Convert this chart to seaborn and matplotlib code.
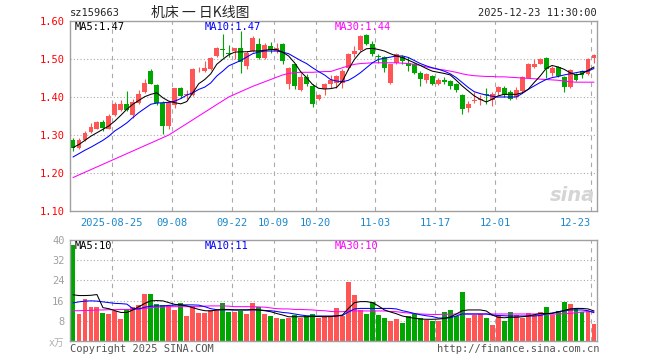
"""
Daily K-line chart for sz159663 with price MAs and volume panel.
"""

import numpy as np
import matplotlib
matplotlib.use("Agg")
import matplotlib.pyplot as plt
import seaborn as sns

sns.set_style("white")
plt.rcParams["font.family"] = ["DejaVu Sans Mono", "Noto Sans CJK SC"]

# tick positions (candle index) and labels on the date axis
tick_idx = [7, 17, 27, 34, 41, 51, 61, 71, 87]
tick_labels = ["2025-08-25", "09-08", "09-22", "10-09", "10-20",
               "11-03", "11-17", "12-01", "12-23"]

open_ = [1.286, 1.265, 1.288, 1.309, 1.317, 1.335, 1.317, 1.353, 1.367, 1.382,
         1.353, 1.385, 1.414, 1.468, 1.432, 1.385, 1.324, 1.379, 1.425, 1.405,
         1.405, 1.470, 1.468, 1.473, 1.508, 1.526, 1.517, 1.521, 1.530, 1.482,
         1.521, 1.540, 1.502, 1.534, 1.521, 1.540, 1.433, 1.486, 1.418, 1.453,
         1.429, 1.394, 1.420, 1.435, 1.436, 1.438, 1.477, 1.512, 1.523, 1.563,
         1.540, 1.509, 1.505, 1.438, 1.490, 1.505, 1.490, 1.486, 1.464, 1.446,
         1.455, 1.435, 1.444, 1.442, 1.435, 1.405, 1.370, 1.389, 1.393, 1.409,
         1.391, 1.414, 1.425, 1.414, 1.400, 1.416, 1.451, 1.479, 1.488, 1.502,
         1.464, 1.479, 1.453, 1.426, 1.458, 1.468, 1.460, 1.502]
close = [1.267, 1.288, 1.304, 1.322, 1.335, 1.319, 1.351, 1.381, 1.382, 1.367,
         1.388, 1.407, 1.436, 1.435, 1.385, 1.324, 1.387, 1.425, 1.403, 1.409,
         1.475, 1.472, 1.475, 1.502, 1.530, 1.524, 1.514, 1.528, 1.493, 1.517,
         1.556, 1.502, 1.537, 1.525, 1.530, 1.496, 1.477, 1.429, 1.453, 1.435,
         1.381, 1.405, 1.435, 1.446, 1.454, 1.468, 1.514, 1.521, 1.561, 1.540,
         1.512, 1.505, 1.477, 1.486, 1.514, 1.496, 1.482, 1.464, 1.448, 1.460,
         1.433, 1.446, 1.439, 1.429, 1.418, 1.368, 1.381, 1.391, 1.394, 1.405,
         1.409, 1.426, 1.405, 1.396, 1.418, 1.453, 1.488, 1.488, 1.499, 1.475,
         1.477, 1.455, 1.426, 1.470, 1.446, 1.458, 1.499, 1.511]
high = [1.291, 1.291, 1.311, 1.332, 1.337, 1.339, 1.354, 1.386, 1.393, 1.416,
        1.394, 1.418, 1.448, 1.473, 1.435, 1.389, 1.389, 1.425, 1.427, 1.418,
        1.477, 1.479, 1.496, 1.504, 1.532, 1.567, 1.538, 1.530, 1.574, 1.521,
        1.561, 1.556, 1.543, 1.546, 1.543, 1.543, 1.479, 1.488, 1.464, 1.460,
        1.433, 1.409, 1.438, 1.457, 1.457, 1.473, 1.517, 1.534, 1.562, 1.567,
        1.547, 1.514, 1.508, 1.488, 1.517, 1.511, 1.504, 1.490, 1.468, 1.464,
        1.458, 1.451, 1.453, 1.446, 1.438, 1.407, 1.389, 1.414, 1.405, 1.423,
        1.414, 1.429, 1.429, 1.418, 1.426, 1.455, 1.490, 1.499, 1.502, 1.504,
        1.482, 1.482, 1.455, 1.473, 1.464, 1.470, 1.502, 1.512]
low = [1.258, 1.263, 1.284, 1.306, 1.315, 1.311, 1.315, 1.351, 1.363, 1.363,
       1.346, 1.382, 1.411, 1.433, 1.379, 1.302, 1.315, 1.372, 1.397, 1.396,
       1.402, 1.465, 1.466, 1.470, 1.505, 1.504, 1.504, 1.499, 1.464, 1.473,
       1.519, 1.500, 1.500, 1.517, 1.517, 1.486, 1.420, 1.420, 1.416, 1.429,
       1.374, 1.391, 1.405, 1.423, 1.425, 1.425, 1.470, 1.505, 1.522, 1.537,
       1.508, 1.490, 1.467, 1.433, 1.486, 1.486, 1.468, 1.460, 1.429, 1.438,
       1.432, 1.432, 1.435, 1.420, 1.414, 1.356, 1.361, 1.385, 1.379, 1.382,
       1.376, 1.405, 1.400, 1.391, 1.396, 1.414, 1.449, 1.477, 1.486, 1.451,
       1.455, 1.453, 1.414, 1.425, 1.442, 1.449, 1.458, 1.490]

ma5 = [1.267, 1.275, 1.286, 1.297, 1.306, 1.315, 1.324, 1.337, 1.352, 1.368,
       1.381, 1.391, 1.401, 1.407, 1.411, 1.398, 1.389, 1.385, 1.382, 1.388,
       1.411, 1.435, 1.446, 1.461, 1.486, 1.499, 1.511, 1.518, 1.519, 1.519,
       1.521, 1.521, 1.523, 1.525, 1.525, 1.518, 1.508, 1.490, 1.467, 1.451,
       1.433, 1.423, 1.421, 1.422, 1.425, 1.442, 1.473, 1.499, 1.518, 1.527,
       1.528, 1.525, 1.521, 1.514, 1.508, 1.504, 1.497, 1.490, 1.483, 1.475,
       1.468, 1.465, 1.462, 1.458, 1.444, 1.429, 1.416, 1.403, 1.394, 1.387,
       1.394, 1.403, 1.407, 1.407, 1.407, 1.411, 1.420, 1.438, 1.455, 1.475,
       1.483, 1.479, 1.473, 1.464, 1.458, 1.461, 1.470, 1.479]
ma10 = [1.242, 1.251, 1.260, 1.268, 1.277, 1.286, 1.297, 1.311, 1.321, 1.332,
        1.346, 1.359, 1.370, 1.381, 1.384, 1.385, 1.386, 1.389, 1.396, 1.405,
        1.411, 1.420, 1.426, 1.437, 1.455, 1.468, 1.482, 1.489, 1.496, 1.505,
        1.514, 1.518, 1.521, 1.521, 1.521, 1.518, 1.514, 1.505, 1.496, 1.488,
        1.477, 1.467, 1.458, 1.446, 1.442, 1.440, 1.444, 1.453, 1.464, 1.477,
        1.490, 1.499, 1.502, 1.505, 1.508, 1.508, 1.504, 1.496, 1.488, 1.482,
        1.477, 1.473, 1.468, 1.461, 1.451, 1.438, 1.425, 1.414, 1.409, 1.405,
        1.402, 1.400, 1.400, 1.400, 1.400, 1.409, 1.420, 1.429, 1.438, 1.446,
        1.451, 1.454, 1.458, 1.461, 1.464, 1.467, 1.468, 1.475]
ma30 = [1.188, 1.195, 1.202, 1.209, 1.216, 1.223, 1.230, 1.237, 1.244, 1.251,
        1.258, 1.265, 1.272, 1.279, 1.286, 1.293, 1.300, 1.310, 1.320, 1.330,
        1.340, 1.350, 1.360, 1.370, 1.380, 1.390, 1.400, 1.407, 1.414, 1.421,
        1.428, 1.434, 1.440, 1.446, 1.452, 1.458, 1.462, 1.464, 1.465, 1.465,
        1.465, 1.466, 1.467, 1.467, 1.472, 1.477, 1.482, 1.486, 1.488, 1.489,
        1.490, 1.490, 1.490, 1.490, 1.490, 1.489, 1.488, 1.486, 1.483, 1.479,
        1.476, 1.473, 1.471, 1.468, 1.465, 1.461, 1.458, 1.456, 1.455, 1.454,
        1.454, 1.453, 1.453, 1.452, 1.451, 1.450, 1.449, 1.448, 1.447, 1.446,
        1.445, 1.444, 1.442, 1.440, 1.439, 1.439, 1.439, 1.439]

# volume in units of 10k (万)
volume = [37.9, 10.7, 16.5, 13.5, 13.5, 11.1, 10.7, 11.7, 8.7, 12.7,
          13.6, 14.3, 18.7, 18.7, 14.7, 14.1, 13.9, 12.3, 15.1, 9.9,
          14.0, 11.2, 11.2, 12.3, 12.3, 15.1, 11.6, 11.6, 11.9, 10.7,
          15.1, 13.5, 10.7, 9.9, 9.1, 8.7, 9.1, 10.3, 9.1, 9.9,
          10.7, 9.1, 9.9, 9.9, 13.1, 9.9, 23.2, 18.3, 12.3, 10.7,
          15.5, 10.3, 9.3, 8.0, 8.7, 7.2, 9.9, 10.7, 9.3, 8.3,
          8.0, 8.0, 11.6, 12.3, 9.9, 19.6, 9.3, 10.3, 10.7, 9.2,
          6.3, 10.3, 8.0, 11.6, 10.3, 9.2, 11.2, 10.3, 11.6, 13.6,
          10.3, 12.0, 15.6, 14.7, 12.5, 11.6, 12.0, 6.7]
vol_ma5 = [18.3, 18.0, 18.0, 18.1, 18.4, 13.2, 12.8, 12.0, 11.3, 11.3,
           12.3, 13.6, 14.9, 15.9, 16.0, 15.9, 15.2, 14.5, 14.3, 13.9,
           13.2, 12.5, 12.0, 11.9, 12.3, 12.5, 12.5, 12.3, 12.3, 12.3,
           12.5, 12.3, 12.0, 11.6, 10.9, 10.3, 9.6, 9.6, 9.6, 9.6,
           9.7, 9.7, 9.6, 9.7, 9.9, 10.3, 12.9, 15.2, 15.6, 15.6,
           15.2, 13.9, 12.3, 11.5, 10.8, 9.9, 9.4, 9.0, 8.7, 8.6,
           8.6, 8.7, 8.9, 9.5, 10.7, 12.0, 12.3, 12.3, 12.3, 11.9,
           10.3, 9.4, 9.2, 9.4, 9.4, 9.6, 9.9, 10.4, 10.9, 10.9,
           10.9, 11.5, 12.1, 12.7, 12.9, 12.9, 12.7, 11.9]
vol_ma10 = [15.1, 15.5, 15.8, 15.9, 15.8, 15.5, 15.2, 14.9, 14.8, 14.6,
            12.8, 12.7, 13.4, 13.8, 13.9, 13.9, 14.1, 14.2, 14.3, 14.3,
            14.3, 14.2, 13.6, 12.8, 12.4, 12.3, 12.3, 12.3, 12.3, 12.3,
            12.3, 12.3, 12.1, 12.0, 11.7, 11.3, 11.1, 10.7, 10.3, 10.0,
            9.9, 9.9, 9.9, 9.9, 9.9, 10.1, 11.5, 12.7, 12.9, 12.9,
            12.9, 12.9, 12.9, 12.9, 12.7, 12.0, 11.5, 10.9, 10.4, 10.0,
            9.7, 9.1, 9.1, 9.2, 9.9, 10.7, 10.7, 10.7, 10.7, 10.7,
            10.3, 10.1, 10.0, 9.9, 9.9, 9.9, 9.9, 9.9, 10.1, 10.7,
            11.1, 11.6, 11.9, 12.3, 12.3, 12.3, 12.0, 11.2]
vol_ma30 = [12.0, 12.0, 12.1, 12.1, 12.3, 12.3, 12.4, 12.4, 12.5, 12.5,
            12.5, 12.7, 12.9, 13.2, 13.4, 13.5, 13.6, 13.6, 13.6, 13.6,
            13.6, 13.6, 13.8, 13.9, 13.9, 13.9, 13.8, 13.6, 13.6, 13.6,
            13.6, 13.5, 13.4, 13.1, 12.8, 12.7, 12.7, 12.5, 12.5, 12.4,
            12.3, 12.1, 12.0, 11.7, 11.6, 11.6, 11.9, 11.9, 11.9, 11.9,
            11.9, 11.9, 11.9, 11.7, 11.6, 11.3, 11.1, 10.8, 10.7, 10.6,
            10.5, 10.5, 10.6, 10.6, 10.7, 10.7, 10.7, 10.7, 10.7, 10.7,
            10.7, 10.7, 10.7, 10.7, 10.7, 10.7, 10.7, 10.7, 10.7, 10.6,
            10.6, 10.7, 10.8, 10.9, 11.2, 11.5, 11.6, 11.6]

UP = "#FF5555"
DOWN = "#00A600"
FRAME = "#A0A0A0"
W, H = 660, 360


def px_axes(fig, left, top, right, bottom):
    return fig.add_axes([left / W, 1 - bottom / H, (right - left) / W, (bottom - top) / H])


def ftext(fig, x, y, s, **kw):
    fig.text(x / W, 1 - y / H, s, **kw)


def style_panel(ax):
    for sp in ax.spines.values():
        sp.set_color(FRAME)
        sp.set_linewidth(1.0)
    ax.tick_params(length=0)
    for i in tick_idx:
        ax.axvline(i - 0.5, color="#AAAAAA", lw=0.8, ls=(0, (4, 4)), zorder=0)


x = np.arange(len(close))
o = np.array(open_)
c = np.array(close)
up = c >= o
colors = np.where(up, UP, DOWN)

fig = plt.figure(figsize=(6.6, 3.6), dpi=100)

# ---- price panel ----
ax = px_axes(fig, 70, 21, 597, 211)
style_panel(ax)
for lvl in [1.2, 1.3, 1.4, 1.5]:
    ax.axhline(lvl, color="#AAAAAA", lw=0.8, ls=(0, (1, 2)), zorder=0)

ax.vlines(x, low, high, colors=colors, lw=0.8, zorder=2)
body = np.maximum(np.abs(c - o), 0.0015)
ax.bar(x, body, bottom=np.minimum(o, c), width=0.82, color=colors, lw=0, zorder=3)

sns.lineplot(x=x, y=ma30, ax=ax, color="#FF00FF", lw=0.75, zorder=4)
sns.lineplot(x=x, y=ma10, ax=ax, color="#0000FF", lw=0.75, zorder=4)
sns.lineplot(x=x, y=ma5, ax=ax, color="black", lw=0.75, zorder=5)

ax.set_xlim(-0.5, len(close) - 0.5)
ax.set_ylim(1.10, 1.60)
ax.set_yticks([1.10, 1.20, 1.30, 1.40, 1.50, 1.60])
ax.set_yticklabels(["1.10", "1.20", "1.30", "1.40", "1.50", "1.60"])
ax.tick_params(axis="y", labelcolor="#FF0000", labelsize=7.5, pad=4)
ax.set_xticks([i - 0.5 for i in tick_idx])
ax.set_xticklabels(tick_labels)
ax.tick_params(axis="x", labelcolor="#1A88CC", labelsize=7.5, pad=5)
ax.get_xticklabels()[-1].set_horizontalalignment("right")
ax.set_xlabel("")
ax.set_ylabel("")

ax.text(0.997, 0.03, "sina", transform=ax.transAxes, ha="right", va="bottom",
        fontsize=14, color="#D5D5D5", fontstyle="italic", fontweight="bold",
        family="DejaVu Sans")

# ---- volume panel ----
axv = px_axes(fig, 70, 240, 597, 341)
style_panel(axv)
for lvl in [8, 16, 24, 32]:
    axv.axhline(lvl, color="#AAAAAA", lw=0.8, ls=(0, (1, 2)), zorder=0)
axv.bar(x, volume, width=0.82, color=colors, lw=0, zorder=2)
sns.lineplot(x=x, y=vol_ma30, ax=axv, color="#FF00FF", lw=0.75, zorder=4)
sns.lineplot(x=x, y=vol_ma10, ax=axv, color="#0000FF", lw=0.75, zorder=4)
sns.lineplot(x=x, y=vol_ma5, ax=axv, color="black", lw=0.75, zorder=5)
axv.set_xlim(-0.5, len(close) - 0.5)
axv.set_ylim(0, 40)
axv.set_yticks([8, 16, 24, 32, 40])
axv.set_yticklabels(["8", "16", "24", "32", "40"])
axv.tick_params(axis="y", labelcolor="#A0A0A0", labelsize=7.5, pad=4)
axv.set_xticks([i - 0.5 for i in tick_idx])
axv.set_xticklabels([])
axv.set_xlabel("")
axv.set_ylabel("")

# ---- texts ----
ftext(fig, 70, 13, "sz159663", fontsize=7.5, va="center", ha="left")
ftext(fig, 200, 13, "机床 一 日K线图", fontsize=10, va="center", ha="center",
      family=["Noto Sans CJK SC", "DejaVu Sans"])
ftext(fig, 597, 13, "2025-12-23 11:30:00", fontsize=7.5, va="center", ha="right")

ftext(fig, 75, 27, "MA5:1.47", fontsize=7.5, va="center", color="black")
ftext(fig, 205, 27, "MA10:1.47", fontsize=7.5, va="center", color="#0000FF")
ftext(fig, 335, 27, "MA30:1.44", fontsize=7.5, va="center", color="#FF00FF")

ftext(fig, 75, 246, "MA5:10", fontsize=7.5, va="center", color="black")
ftext(fig, 205, 246, "MA10:11", fontsize=7.5, va="center", color="#0000FF")
ftext(fig, 335, 246, "MA30:10", fontsize=7.5, va="center", color="#FF00FF")

ftext(fig, 64, 343, "x万", fontsize=7, va="center", ha="right", color="#B0B0B0",
      family=["DejaVu Sans Mono", "Noto Sans CJK SC"])
ftext(fig, 70, 349, "Copyright 2025 SINA.COM", fontsize=7.5, va="center", color="#555555")
ftext(fig, 600, 349, "http://finance.sina.com.cn", fontsize=7.5, va="center",
      ha="right", color="#555555")

fig.savefig("out.png", dpi=100)
